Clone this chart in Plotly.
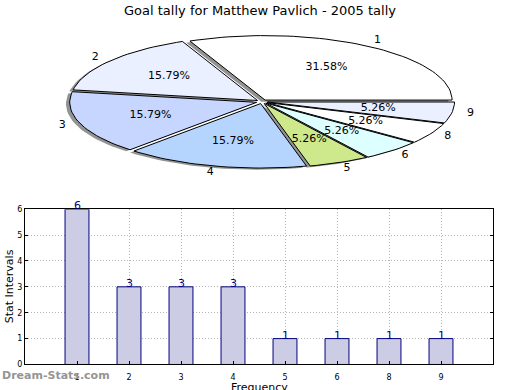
import math
import plotly.graph_objects as go

# ---- data ----
labels = ["1", "2", "3", "4", "5", "6", "8", "9"]
counts = [6, 3, 3, 3, 1, 1, 1, 1]
pie_colors = ["#ffffff", "#eaf0ff", "#c6d6ff", "#b5d5ff", "#cde98c", "#ddffff", "#ffffff", "#eaf0ff"]
title_text = "Goal tally for Matthew Pavlich - 2005 tally"
y_ticks = [0, 1, 2, 3, 4, 5, 6]

W, H = 520, 390
FONT = "DejaVu Sans"

fig = go.Figure()

# ---- pie (elliptical, exploded, with shadow) drawn in unit coordinates ----
total = sum(counts)
explode = 0.03
shadow_dx, shadow_dy = -0.02, -0.025
wedges = []
a = 0.0
for lab, c, col in zip(labels, counts, pie_colors):
    span = 360.0 * c / total
    a0, a1 = a, a + span
    mid = math.radians((a0 + a1) / 2)
    ox, oy = explode * math.cos(mid), explode * math.sin(mid)
    n = max(8, int(span / 2))
    xs = [ox]
    ys = [oy]
    for k in range(n + 1):
        t = math.radians(a0 + (a1 - a0) * k / n)
        xs.append(ox + math.cos(t))
        ys.append(oy + math.sin(t))
    xs.append(ox)
    ys.append(oy)
    wedges.append((lab, c, col, xs, ys, mid, ox, oy))
    a = a1

for lab, c, col, xs, ys, mid, ox, oy in wedges:
    fig.add_trace(go.Scatter(
        x=[v + shadow_dx for v in xs], y=[v + shadow_dy for v in ys],
        mode="lines", fill="toself", fillcolor="rgba(40,40,40,0.5)",
        line=dict(width=0), hoverinfo="skip", showlegend=False,
        xaxis="x2", yaxis="y2"))
for lab, c, col, xs, ys, mid, ox, oy in wedges:
    fig.add_trace(go.Scatter(
        x=xs, y=ys, mode="lines", fill="toself", fillcolor=col,
        line=dict(color="black", width=1), hoverinfo="skip", showlegend=False,
        xaxis="x2", yaxis="y2"))

lx, ly, lt, px_, py_, pt = [], [], [], [], [], []
for lab, c, col, xs, ys, mid, ox, oy in wedges:
    lx.append(ox + 1.1 * math.cos(mid))
    ly.append(oy + 1.1 * math.sin(mid))
    lt.append(lab)
    px_.append(ox + 0.6 * math.cos(mid))
    py_.append(oy + 0.6 * math.sin(mid))
    pt.append("%.2f%%" % (100.0 * c / total))
fig.add_trace(go.Scatter(x=lx, y=ly, text=lt, mode="text", textposition="middle center",
                         textfont=dict(family=FONT, size=11, color="black"),
                         hoverinfo="skip", showlegend=False, xaxis="x2", yaxis="y2"))
fig.add_trace(go.Scatter(x=px_, y=py_, text=pt, mode="text", textposition="middle center",
                         textfont=dict(family=FONT, size=11, color="black"),
                         hoverinfo="skip", showlegend=False, xaxis="x2", yaxis="y2"))

# ---- bar chart ----
fig.add_trace(go.Bar(x=labels, y=counts, width=0.46,
                     marker=dict(color="#ccccE4", line=dict(color="#000080", width=1)),
                     hoverinfo="skip", showlegend=False, xaxis="x", yaxis="y"))

annots = []
for i, v in enumerate(counts):
    annots.append(dict(text=str(v), x=i, y=v, xref="x", yref="y", showarrow=False,
                       xanchor="center", yanchor="bottom", yshift=-5,
                       font=dict(family=FONT, size=11, color="#000080")))

# pie axis geometry (pixel mapping helpers)
cx, cy, rx, ry = 262.0, 100.0, 187.0, 66.0
pie_top, pie_bot = 20.0, 190.0
bar_l, bar_r, bar_t, bar_b = 25.0, 493.0, 210.0, 369.0

annots += [
    dict(text="Stat Intervals", xref="paper", yref="paper", x=9.0 / W,
         y=(H - 289.0) / H, textangle=-90, showarrow=False,
         xanchor="center", yanchor="middle",
         font=dict(family=FONT, size=11, color="black")),
    dict(text="Frequency", xref="paper", yref="paper", x=259.0 / W,
         y=(H - 384.0) / H, showarrow=False, xanchor="center", yanchor="top",
         font=dict(family=FONT, size=11, color="black")),
    dict(text="<b>Dream-Stats.com</b>", xref="paper", yref="paper", x=0.0,
         y=(H - 380.0) / H, showarrow=False, xanchor="left", yanchor="middle",
         font=dict(family=FONT, size=11, color="#959595")),
]

GRID = dict(showgrid=True, gridcolor="#b4b4b4", griddash="1px,2px", gridwidth=1)

fig.update_layout(
    width=W, height=H,
    margin=dict(l=0, r=0, t=0, b=0),
    paper_bgcolor="white", plot_bgcolor="white",
    font=dict(family=FONT, color="black"),
    title=dict(text=title_text, x=0.5, xanchor="center", y=1 - 10.0 / H, yanchor="middle",
               font=dict(family=FONT, size=13, color="black")),
    xaxis2=dict(domain=[0, 1], range=[(0 - cx) / rx, (W - cx) / rx],
                visible=False, fixedrange=True, anchor="y2"),
    yaxis2=dict(domain=[(H - pie_bot) / H, (H - pie_top) / H],
                range=[(cy - pie_bot) / ry, (cy - pie_top) / ry],
                visible=False, fixedrange=True, anchor="x2"),
    xaxis=dict(domain=[bar_l / W, bar_r / W], range=[-1, len(labels)], type="category",
               showline=True, mirror=True, linecolor="black", linewidth=1,
               ticks="inside", ticklen=3, tickcolor="black", ticklabelstandoff=5,
               tickfont=dict(family=FONT, size=8, color="black"), anchor="y",
               zeroline=False, **GRID),
    yaxis=dict(domain=[(H - bar_b) / H, (H - bar_t) / H], range=[0, 6],
               tickvals=y_ticks,
               showline=True, mirror="ticks", linecolor="black", linewidth=1,
               ticks="inside", ticklen=3, tickcolor="black",
               tickfont=dict(family=FONT, size=8, color="black"), anchor="x",
               zeroline=False, **GRID),
    annotations=annots,
)

fig.write_html("out.html", config={"displayModeBar": False, "staticPlot": True},
               post_script="document.body.style.margin='0';document.body.style.overflow='hidden';")
